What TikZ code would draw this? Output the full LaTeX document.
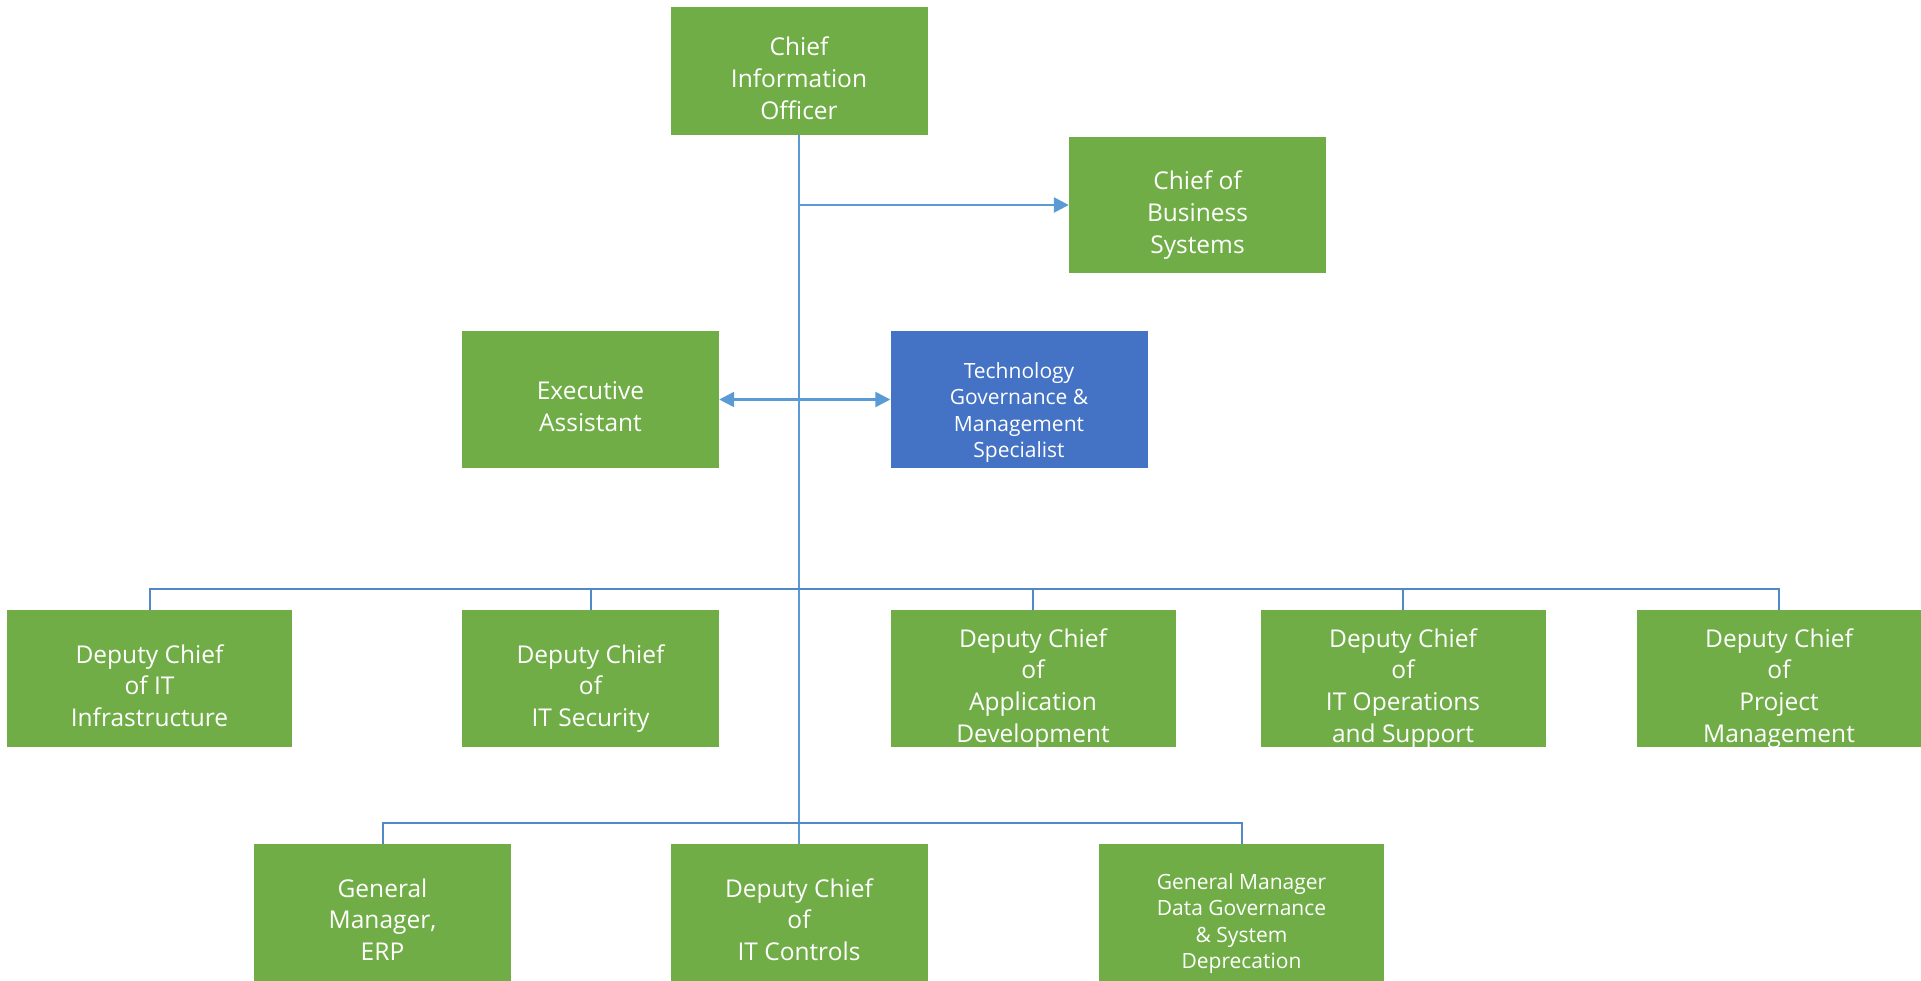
\documentclass[tikz,border=0pt]{standalone}
\usepackage{fontspec}
\setmainfont{Open Sans}
\usetikzlibrary{arrows.meta}
\definecolor{cgreen}{HTML}{70AD47}
\definecolor{cblue}{HTML}{4472C4}
\definecolor{cline}{HTML}{5B9BD5}
\definecolor{cbus}{HTML}{5089C6}
\tikzset{
  box/.style={rectangle, fill=cgreen, draw=none, inner sep=0pt, minimum height=137pt},
  narrow/.style={minimum width=257pt},
  wide/.style={minimum width=285pt},
  bluebox/.style={fill=cblue},
  bigtxt/.style={text=white, align=center, inner sep=0pt, text depth=0pt, font=\fontsize{24.5}{31.8}\selectfont},
  smalltxt/.style={text=white, align=center, inner sep=0pt, text depth=0pt, font=\fontsize{21}{26.5}\selectfont},
  trunk/.style={draw=cline, line width=2.5pt},
  bus/.style={draw=cbus, line width=2pt},
  arr/.style={draw=cline, line width=2.5pt, -{Triangle[length=15pt,width=15pt]}},
  darr/.style={draw=cline, line width=2.5pt, {Triangle[length=15pt,width=15pt]}-{Triangle[length=15pt,width=15pt]}}
}
\begin{document}
\begin{tikzpicture}[x=1pt,y=-1pt]
\useasboundingbox (0,0) rectangle (1921,980);
% boxes
\node[box, narrow, minimum height=128pt] (cio) at (799,71) {};
\node[box, narrow, minimum height=136pt] (cbs) at (1197.5,205) {};
\node[box, narrow] (ea) at (590.5,399.5) {};
\node[box, narrow, bluebox] (tg) at (1019,399.5) {};
\node[box, wide] (d1) at (149.5,678.5) {};
\node[box, narrow] (d2) at (590.5,678.5) {};
\node[box, wide] (d3) at (1033,678.5) {};
\node[box, wide] (d4) at (1403,678.5) {};
\node[box, wide] (d5) at (1779,678.5) {};
\node[box, narrow] (g1) at (382.5,912.5) {};
\node[box, narrow] (g2) at (799,912.5) {};
\node[box, wide] (g3) at (1241.5,912.5) {};
% texts
\node[bigtxt] (cio-t) at ([yshift=-7pt]cio.center) {Chief\\Information\\Officer};
\node[bigtxt] (cbs-t) at ([yshift=-7pt]cbs.center) {Chief of\\Business\\Systems};
\node[bigtxt] (ea-t) at ([yshift=-7pt]ea.center) {Executive\\Assistant};
\node[smalltxt] (tg-t) at ([yshift=-10.5pt]tg.center) {Technology\\Governance \&\\Management\\Specialist};
\node[bigtxt] (d1-t) at ([yshift=-7pt]d1.center) {Deputy Chief\\of IT\\Infrastructure};
\node[bigtxt] (d2-t) at ([yshift=-7pt]d2.center) {Deputy Chief\\of\\IT Security};
\node[bigtxt] (d3-t) at ([yshift=-7pt]d3.center) {Deputy Chief\\of\\Application\\Development};
\node[bigtxt] (d4-t) at ([yshift=-7pt]d4.center) {Deputy Chief\\of\\IT Operations\\and Support};
\node[bigtxt] (d5-t) at ([yshift=-7pt]d5.center) {Deputy Chief\\of\\Project\\Management};
\node[bigtxt] (g1-t) at ([yshift=-7pt]g1.center) {General\\Manager,\\ERP};
\node[bigtxt] (g2-t) at ([yshift=-7pt]g2.center) {Deputy Chief\\of\\IT Controls};
\node[smalltxt] (g3-t) at ([yshift=-8.5pt]g3.center) {General Manager\\Data Governance\\\& System\\Deprecation};
% connectors
\coordinate (b1) at (0,589);
\coordinate (b2) at (0,823);
\draw[trunk] (cio.south) -- (g2.north);
\draw[arr] (cio.south |- cbs.west) -- (cbs.west);
\draw[darr] (ea.east) -- (tg.west);
\draw[bus] (d1.north) -- (d1.north |- b1) -- (d5.north |- b1) -- (d5.north);
\draw[bus] (d2.north) -- (d2.north |- b1);
\draw[bus] (d3.north) -- (d3.north |- b1);
\draw[bus] (d4.north) -- (d4.north |- b1);
\draw[bus] (g1.north) -- (g1.north |- b2) -- (g3.north |- b2) -- (g3.north);
\end{tikzpicture}
\end{document}
